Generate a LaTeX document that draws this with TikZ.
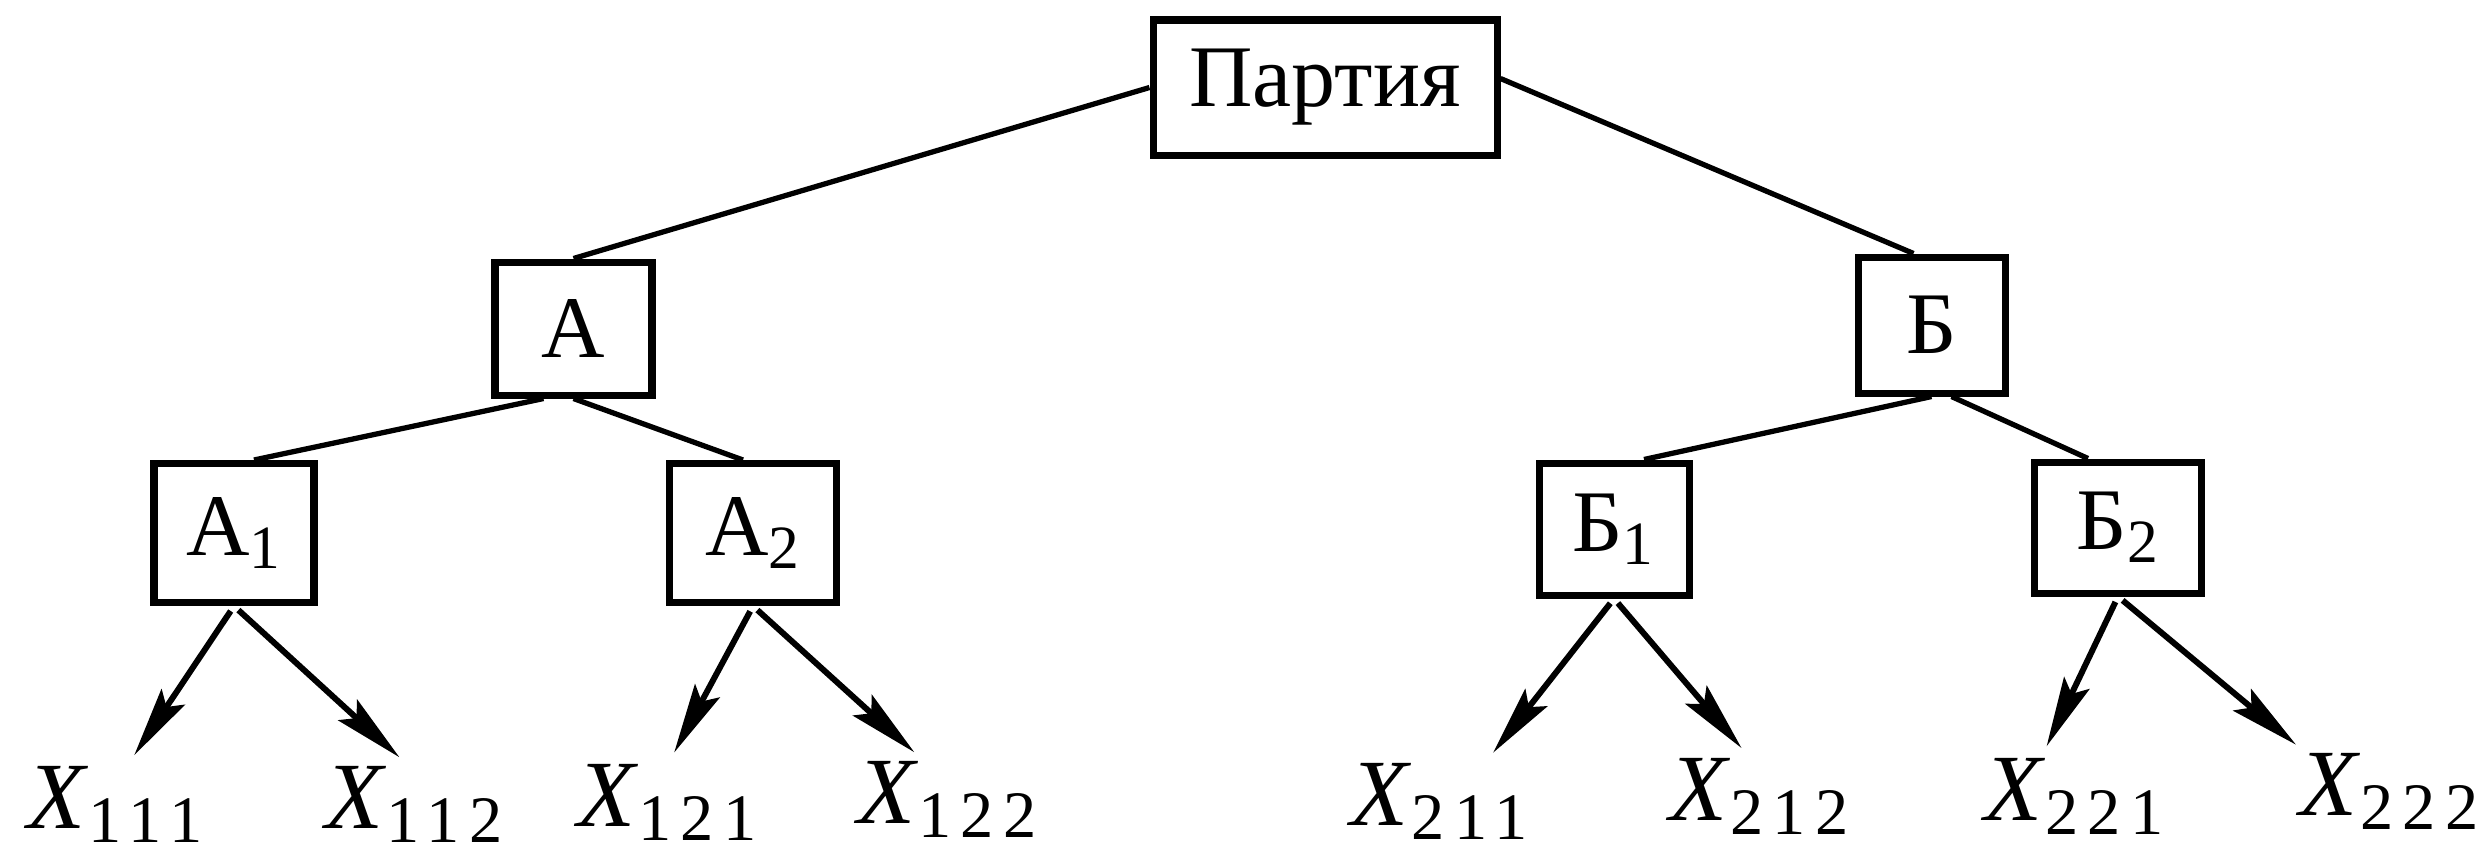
\documentclass[tikz,border=0pt]{standalone}
\usepackage{fontspec}
\IfFontExistsTF{LiberationSerif-Regular.ttf}
  {\setmainfont{LiberationSerif}[Extension=.ttf, UprightFont=*-Regular, ItalicFont=*-Italic, BoldFont=*-Bold, BoldItalicFont=*-BoldItalic]}
  {\setmainfont{DejaVu Serif}}
\usetikzlibrary{arrows.meta}
\newcommand{\leafx}[1]{\textit{X}\textsubscript{\addfontfeature{LetterSpace=14}#1}}

\begin{document}
\begin{tikzpicture}[
    box/.style={rectangle, draw=black, line width=2pt, minimum width=1.6cm, minimum height=1.35cm, inner sep=2pt, text centered, font=\fontsize{25}{29}\selectfont},
    leaf/.style={inner sep=0pt, anchor=north, font=\fontsize{27}{31}\selectfont},
    link/.style={line width=1.5pt},
    arrow/.style={line width=1.7pt, -{Stealth[length=0.7cm, width=0.28cm, inset=0.12cm]}, shorten <=0.06cm, shorten >=0.13cm}
]
    \fill[white] (0,0) rectangle (24.86,-8.59);
    \useasboundingbox (0,0) rectangle (24.86,-8.59);
    % upper levels
    \node[box, minimum width=3.44cm] (party) at (13.25,-0.875) {Партия};
    \node[box, minimum width=1.57cm, minimum height=1.33cm] (A) at (5.735,-3.285) {А};
    \node[box, minimum width=1.47cm, minimum height=1.36cm] (B) at (19.315,-3.25) {Б};
    \node[box, minimum height=1.39cm] (A1) at (2.34,-5.33) {А\textsubscript{1}};
    \node[box, minimum width=1.67cm, minimum height=1.39cm] (A2) at (7.53,-5.33) {А\textsubscript{2}};
    \node[box, minimum width=1.5cm, minimum height=1.32cm] (B1) at (16.14,-5.29) {Б\textsubscript{1}};
    \node[box, minimum width=1.67cm, minimum height=1.31cm] (B2) at (21.18,-5.275) {Б\textsubscript{2}};
    % leaves
    \node[leaf] (x111) at (1.16,-7.66) {\leafx{111}};
    \node[leaf] (x112) at (4.15,-7.66) {\leafx{112}};
    \node[leaf] (x121) at (6.68,-7.64) {\leafx{121}};
    \node[leaf] (x122) at (9.48,-7.61) {\leafx{122}};
    \node[leaf] (x211) at (14.40,-7.63) {\leafx{211}};
    \node[leaf] (x212) at (17.60,-7.58) {\leafx{212}};
    \node[leaf] (x221) at (20.75,-7.58) {\leafx{221}};
    \node[leaf] (x222) at (23.90,-7.53) {\leafx{222}};
    \draw[link] (party.west) -- (A.north);
    \draw[link] ([yshift=0.09cm]party.east) -- ([xshift=-0.18cm]B.north);
    \draw[link] ([xshift=-0.3cm]A.south) -- ([xshift=0.2cm]A1.north);
    \draw[link] (A.south) -- ([xshift=-0.1cm]A2.north);
    \draw[link] (B.south) -- ([xshift=0.3cm]B1.north);
    \draw[link] ([xshift=0.2cm]B.south) -- ([xshift=-0.3cm]B2.north);
    \draw[arrow] (A1.south) -- ([xshift=0.11cm]x111.north);
    \draw[arrow] (A1.south) -- ([xshift=-0.06cm]x112.north);
    \draw[arrow] (A2.south) -- (x121.north);
    \draw[arrow] (A2.south) -- ([xshift=-0.24cm]x122.north);
    \draw[arrow] (B1.south) -- ([xshift=0.45cm]x211.north);
    \draw[arrow] (B1.south) -- ([xshift=-0.1cm]x212.north);
    \draw[arrow] (B2.south) -- ([xshift=-0.34cm]x221.north);
    \draw[arrow] (B2.south) -- ([xshift=-0.84cm]x222.north);
\end{tikzpicture}
\end{document}
